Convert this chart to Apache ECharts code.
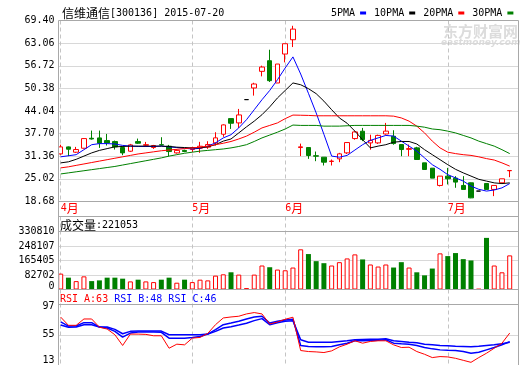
<!DOCTYPE html>
<html><head><meta charset="utf-8">
<script src="https://cdn.jsdelivr.net/npm/echarts@6/dist/echarts.min.js"></script>
<style>html,body{margin:0;padding:0;background:#fff}#c{width:520px;height:365px}</style>
</head><body><div id="c"></div>
<script>
const stockTitle = '信维通信';
const stockCode = '[300136] 2015-07-20';
const monthStarts = [0, 17, 29, 50];
const monthLabels = ['4月', '5月', '6月', '7月'];

const opens = [32.02,33.98,32.49,33.61,36.40,36.50,35.75,35.47,33.80,32.77,35.47,34.45,33.80,34.60,34.17,32.30,33.00,33.24,33.62,33.90,35.11,37.53,41.91,40.70,47.23,50.49,55.15,58.13,51.89,60.00,64.01,33.80,33.80,31.50,31.10,29.90,30.63,32.31,36.32,38.37,35.10,35.10,37.60,36.97,34.64,33.30,33.71,29.51,28.02,23.18,25.79,25.23,23.18,23.92,21.60,23.73,22.06,23.92,27.30];
const closes = [33.98,33.33,33.24,36.31,36.20,35.01,35.10,33.98,32.30,34.54,35.01,34.60,34.36,34.50,32.68,33.00,32.70,33.71,34.17,34.64,36.51,40.14,40.61,42.94,47.23,51.61,56.36,52.54,57.20,62.89,66.99,34.00,31.57,31.38,29.70,30.00,32.03,35.20,38.18,36.04,35.80,37.20,38.40,34.92,33.24,33.50,30.45,27.65,25.23,25.79,25.04,24.11,22.06,19.70,21.60,22.06,23.18,25.04,27.37];
const lows = [31.80,31.40,32.30,33.50,36.03,33.70,34.36,33.24,31.65,32.58,34.82,33.98,33.42,34.36,31.37,32.10,32.50,32.50,32.31,33.43,34.36,36.80,39.02,39.30,47.23,48.35,53.75,52.17,51.89,57.67,61.96,31.40,30.63,29.98,28.77,28.77,29.70,32.00,36.00,35.60,33.20,34.80,37.40,34.60,31.38,31.38,30.45,27.60,25.23,22.90,23.46,22.52,22.06,19.60,21.60,22.06,20.19,23.90,25.50];
const highs = [34.60,34.10,33.98,36.40,38.55,38.55,37.62,35.75,34.17,34.82,36.31,35.38,34.54,36.69,34.54,33.30,33.20,34.00,35.39,35.57,38.09,40.30,41.91,44.62,47.23,51.95,56.74,61.21,57.20,62.89,67.92,34.90,33.80,32.68,31.10,30.45,32.31,35.30,38.40,39.30,37.40,37.40,40.70,38.65,34.64,34.64,34.00,29.51,28.02,25.79,28.10,25.79,25.79,24.00,21.60,23.73,23.18,25.04,27.45];

const ma5 = [31.2,31.5,31.8,33.2,34.6,34.9,34.9,34.8,34.4,34.2,34.1,34.1,34.1,34.2,34.0,33.8,33.6,33.4,33.6,34.2,35.1,36.5,37.4,39.3,41.6,44.4,47.2,49.8,52.8,56.1,59.2,54.4,49.0,43.5,37.5,31.4,31.1,31.6,33.1,34.6,35.8,36.5,37.2,37.0,35.6,34.2,32.8,30.9,29.0,27.7,26.2,25.3,24.4,23.0,22.1,21.6,21.9,22.5,23.7];
const ma10 = [29.5,29.8,30.5,31.4,32.3,33.0,33.5,34.0,34.1,34.2,34.2,34.2,34.2,34.2,34.1,33.9,33.8,33.7,33.7,34.0,34.6,35.6,36.2,37.9,39.6,41.2,43.0,45.2,47.7,49.8,51.9,51.4,50.3,48.9,46.8,44.4,42.1,40.6,38.4,36.0,33.7,34.2,34.6,35.3,35.5,35.5,34.8,33.2,31.8,30.4,29.0,27.7,26.7,25.8,24.9,24.4,23.9,23.7,23.9];
const ma20 = [28.1,28.4,28.8,29.2,29.6,30.0,30.4,30.8,31.2,31.6,32.0,32.3,32.6,32.9,33.1,33.3,33.5,33.7,33.9,34.2,34.6,35.0,35.5,36.2,37.0,38.1,39.3,40.0,40.7,41.9,42.9,42.85,42.8,42.7,42.7,42.7,42.7,42.7,42.7,42.7,42.7,42.7,42.7,42.6,42.1,41.2,39.8,37.9,35.6,33.7,32.5,32.1,31.8,31.6,31.2,30.7,30.3,29.5,28.6];
const ma30 = [26.4,26.7,27.0,27.3,27.6,27.9,28.2,28.5,28.9,29.3,29.7,30.1,30.5,30.9,31.4,31.8,32.2,32.5,32.8,33.0,33.2,33.4,33.7,34.1,34.6,35.5,36.5,37.3,38.1,39.0,40.1,40.0,40.0,40.0,39.8,39.8,39.8,39.9,40.0,40.0,40.0,40.0,40.0,40.0,40.0,40.0,39.8,39.5,39.0,38.8,38.4,37.9,37.2,36.5,35.6,34.9,34.2,33.2,32.1];

const volumes = [90600,67500,47900,75000,47900,52000,67500,67500,61800,46200,56000,46200,42200,56000,67500,38700,56000,42200,56000,52000,79100,86600,98200,84900,8000,84900,136800,127000,113700,109700,125300,229200,202100,161700,150100,136800,155900,177200,200300,171500,142600,131000,142600,125300,155900,125300,98100,80800,119500,206100,190500,207800,173200,165700,3000,294400,136800,98100,194600];

const rsiA = [79.5,68.1,68.1,76.9,76.9,65.5,62.9,55.0,40.1,55.9,55.9,55.5,53.6,53.6,36.3,41.9,41.0,50.3,51.3,56.9,69.0,78.3,79.7,80.7,83.9,85.8,83.9,69.9,72.7,76.5,79.3,33.1,31.7,31.2,30.3,32.6,38.2,41.9,46.6,43.3,45.7,46.6,46.6,41.0,37.3,37.7,31.7,27.9,23.3,24.7,24.2,22.3,19.5,16.7,23.3,29.3,36.3,43.3,57.3];
const rsiB = [73.0,67.1,67.1,71.8,71.8,65.7,64.3,59.7,51.7,57.3,58.7,58.7,58.7,58.3,50.3,50.3,50.3,51.3,52.7,55.9,62.0,69.0,71.3,73.7,76.9,79.7,80.7,71.3,73.7,75.5,76.5,40.1,38.7,38.2,38.2,38.7,41.0,43.3,46.6,46.6,47.1,47.5,48.0,43.3,42.4,41.9,40.1,37.3,35.4,34.0,33.5,33.1,31.7,29.3,30.7,34.0,37.3,41.0,45.5];
const rsiC = [68.5,65.3,65.7,69.0,69.0,65.7,65.7,62.5,56.4,59.7,60.1,60.1,60.1,60.1,55.0,55.0,55.0,55.0,55.0,55.9,59.7,64.3,66.2,68.5,70.9,74.6,77.4,69.0,71.8,73.7,74.6,48.0,44.7,44.7,44.7,44.7,45.7,46.6,48.0,48.5,48.9,48.9,49.4,46.6,45.7,44.7,43.8,41.9,41.0,40.1,39.6,39.1,38.7,38.2,39.1,40.1,41.0,42.4,44.5];

const priceTicks = [18.68, 25.02, 31.36, 37.70, 44.04, 50.38, 56.72, 63.06, 69.40];
const volTicks = [0, 82702.5, 165405, 248107.5, 330810];
const volTickLabels = ['0', '82702', '165405', '248107', '330810'];
const rsiTicks = [13, 55, 97];
const maNames = ['5PMA', '10PMA', '20PMA', '30PMA'];
const volHeader = '成交量';
const volHeaderValue = ':221053';
const rsiHeaders = ['RSI_A:63', 'RSI_B:48', 'RSI_C:46'];
const watermarkCn = '东方财富网';
const watermarkEn = 'eastmoney.com';

// ---------- styling / layout ----------
const MONO = 'DejaVu Sans Mono';
const CJK = 'Noto Sans CJK SC';
const BORDER = '#a8a8a8', GRIDC = '#d8d8d8', DASH = '#c4c4c4';
const UP = '#ff0000', DOWN = '#008000', BLUE = '#0000ff';
const maColors = [BLUE, '#000000', UP, DOWN];
const maSeries = [ma5, ma10, ma20, ma30];
const L = 58.5, W = 460, R = L + W;
const xMin = -0.284, xMax = 59.136;
const mainTop = 20.5, mainH = 181;
const volTop = 216.5, volH = 73, volPlotTop = 231.5;
const rsiTop = 289.5, rsiH = 75.5, rsiPlotTop = 304.5;
const volMax = volTicks[volTicks.length - 1] * volH / (volTop + volH - volPlotTop);
const rsiMax = rsiTicks[2] + (rsiPlotTop - rsiTop) * (rsiTicks[2] - rsiTicks[0]) / (rsiTop + rsiH - rsiPlotTop);
const T = 'rgba(0,0,0,0)';

const idx = opens.map((_, i) => i);
const isUp = i => closes[i] > opens[i] || (closes[i] === opens[i] && (i === 0 || closes[i] >= closes[i - 1]));
const isFlat = i => opens[i] === closes[i] && highs[i] === lows[i];
const nearest = (arr, v) => { let b = 0; arr.forEach((a, i) => { if (Math.abs(a - v) < Math.abs(arr[b] - v)) b = i; }); return b; };

const candleData = idx.map(i => {
  const it = { value: [i, opens[i], closes[i], lows[i], highs[i]] };
  if (isFlat(i)) it.itemStyle = { color: '#000', color0: '#000', borderColor: '#000', borderColor0: '#000', borderColorDoji: '#000' };
  return it;
});
const volData = idx.map(i => ({
  value: [i, volumes[i]],
  itemStyle: isUp(i) ? { color: '#fff', borderColor: UP, borderWidth: 1 } : { color: DOWN, borderColor: DOWN, borderWidth: 0 }
}));

function xAxis(gi, labels) {
  return {
    type: 'value', gridIndex: gi, min: xMin, max: xMax,
    axisLine: { show: false },
    axisTick: { show: false, customValues: monthStarts },
    splitLine: { show: true, lineStyle: { color: DASH, type: [4, 3], width: 1 } },
    axisLabel: labels ? {
      show: true, customValues: monthStarts, align: 'left', margin: 1,
      formatter: v => { const t = monthLabels[nearest(monthStarts, v)]; return '{n|' + t.slice(0, -1) + '}{c|' + t.slice(-1) + '}'; },
      rich: { n: { fontFamily: MONO, fontSize: 10, color: UP }, c: { fontFamily: CJK, fontSize: 12, color: UP } }
    } : { show: false }
  };
}
const yLabel = { fontFamily: MONO, fontSize: 10, color: '#000', margin: 4 };

const chart = echarts.init(document.getElementById('c'));
chart.setOption({
  animation: false,
  backgroundColor: '#fff',
  textStyle: { fontFamily: MONO },
  grid: [
    { left: L, width: W, top: mainTop, height: mainH, outerBoundsMode: 'none' },
    { left: L, width: W, top: volTop, height: volH, outerBoundsMode: 'none' },
    { left: L, width: W, top: rsiTop, height: rsiH, outerBoundsMode: 'none' }
  ],
  legend: {
    data: maNames, left: 331, top: 8, padding: 0, align: 'right', icon: 'rect',
    itemWidth: 6, itemHeight: 3, itemGap: 8, selectedMode: false,
    textStyle: { fontFamily: MONO, fontSize: 10, color: '#000' }
  },
  xAxis: [xAxis(0, true), xAxis(1, false), xAxis(2, false)],
  yAxis: [
    {
      type: 'value', gridIndex: 0, min: priceTicks[0], max: priceTicks[priceTicks.length - 1],
      axisLine: { show: false }, axisTick: { show: false, customValues: priceTicks },
      axisLabel: Object.assign({ customValues: priceTicks, formatter: v => priceTicks[nearest(priceTicks, v)].toFixed(2) }, yLabel),
      splitLine: { show: true, lineStyle: { width: 1, color: priceTicks.map((_, i) => (i === 0 || i === priceTicks.length - 1) ? T : GRIDC) } }
    },
    {
      type: 'value', gridIndex: 1, min: 0, max: volMax,
      axisLine: { show: false }, axisTick: { show: false, customValues: volTicks },
      axisLabel: Object.assign({
        customValues: volTicks,
        formatter: v => { const i = nearest(volTicks, v); return i === 0 ? '{lo|' + volTickLabels[i] + '}' : volTickLabels[i]; },
        rich: { lo: { fontFamily: MONO, fontSize: 10, color: '#000', padding: [0, 0, 7, 0] } }
      }, yLabel),
      splitLine: { show: true, lineStyle: { width: 1, color: volTicks.map((_, i) => (i === 0 || i === volTicks.length - 1) ? T : GRIDC) } }
    },
    {
      type: 'value', gridIndex: 2, min: rsiTicks[0], max: rsiMax,
      axisLine: { show: false }, axisTick: { show: false, customValues: rsiTicks },
      axisLabel: Object.assign({
        customValues: rsiTicks,
        formatter: v => { const i = nearest(rsiTicks, v); const s = String(rsiTicks[i]); return i === 0 ? '{lo|' + s + '}' : (i === 2 ? '{hi|' + s + '}' : s); },
        rich: {
          lo: { fontFamily: MONO, fontSize: 10, color: '#000', padding: [0, 0, 10, 0] },
          hi: { fontFamily: MONO, fontSize: 10, color: '#000', padding: [3, 0, 0, 0] }
        }
      }, yLabel),
      splitLine: { show: true, lineStyle: { width: 1, color: rsiTicks.map((_, i) => i === 1 ? GRIDC : T) } }
    }
  ],
  series: [
    {
      type: 'candlestick', xAxisIndex: 0, yAxisIndex: 0, barWidth: 5, silent: true,
      data: candleData,
      itemStyle: { color: '#fff', color0: DOWN, borderColor: UP, borderColor0: DOWN, borderColorDoji: UP, borderWidth: 1 }
    },
    ...maNames.map((n, j) => ({
      type: 'line', name: n, xAxisIndex: 0, yAxisIndex: 0, silent: true,
      data: idx.map(i => [i, maSeries[j][i]]),
      symbol: 'none', showSymbol: false,
      lineStyle: { width: 1, color: maColors[j] }, itemStyle: { color: maColors[j] }
    })),
    { type: 'bar', xAxisIndex: 1, yAxisIndex: 1, barWidth: 5, silent: true, data: volData },
    {
      type: 'line', name: 'RSI_C', xAxisIndex: 2, yAxisIndex: 2, silent: true, symbol: 'none',
      data: idx.map(i => [i, rsiC[i]]), lineStyle: { width: 1.5, color: BLUE }, itemStyle: { color: BLUE }
    },
    {
      type: 'line', name: 'RSI_B', xAxisIndex: 2, yAxisIndex: 2, silent: true, symbol: 'none',
      data: idx.map(i => [i, rsiB[i]]), lineStyle: { width: 1.5, color: BLUE }, itemStyle: { color: BLUE }
    },
    {
      type: 'line', name: 'RSI_A', xAxisIndex: 2, yAxisIndex: 2, silent: true, symbol: 'none',
      data: idx.map(i => [i, rsiA[i]]), lineStyle: { width: 1, color: UP }, itemStyle: { color: UP }
    }
  ],
  graphic: [
    ...[mainTop, mainTop + mainH, volTop, volPlotTop, rsiTop, rsiPlotTop].map(y => ({
      type: 'line', silent: true, z: 10, shape: { x1: L, y1: y, x2: R, y2: y }, style: { stroke: BORDER, lineWidth: 1 }
    })),
    ...[L, R].map(x => ({
      type: 'line', silent: true, z: 10, shape: { x1: x, y1: mainTop, x2: x, y2: 365 }, style: { stroke: BORDER, lineWidth: 1 }
    })),
    {
      type: 'text', silent: true, x: 62, y: 13,
      style: {
        text: '{c|' + stockTitle + '}{e|' + stockCode + '}', verticalAlign: 'middle',
        rich: { c: { fontFamily: CJK, fontSize: 12, fill: '#000' }, e: { fontFamily: MONO, fontSize: 10, fill: '#000' } }
      }
    },
    {
      type: 'text', silent: true, x: 60, y: 225,
      style: {
        text: '{c|' + volHeader + '}{e|' + volHeaderValue + '}', verticalAlign: 'middle',
        rich: { c: { fontFamily: CJK, fontSize: 12, fill: '#000' }, e: { fontFamily: MONO, fontSize: 10, fill: '#000' } }
      }
    },
    {
      type: 'text', silent: true, x: 60, y: 299,
      style: {
        text: '{a|' + rsiHeaders[0] + ' }{b|' + rsiHeaders[1] + ' ' + rsiHeaders[2] + '}', verticalAlign: 'middle',
        rich: { a: { fontFamily: MONO, fontSize: 10, fill: UP }, b: { fontFamily: MONO, fontSize: 10, fill: BLUE } }
      }
    },
    {
      type: 'text', silent: true, z: -1, x: 443, y: 31,
      style: { text: watermarkCn, font: 'bold 15px "Noto Sans CJK SC"', fill: '#dcdcdc', verticalAlign: 'middle' }
    },
    {
      type: 'text', silent: true, z: -1, x: 441, y: 43,
      style: { text: watermarkEn, font: 'italic bold 9px "DejaVu Sans"', fill: '#dcdcdc', verticalAlign: 'middle' }
    }
  ]
});
</script>
</body></html>
